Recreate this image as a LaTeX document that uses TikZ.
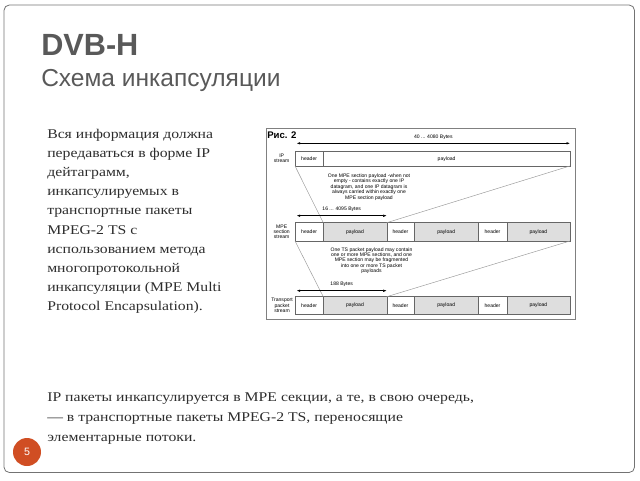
\documentclass[tikz,border=0pt]{standalone}
\usepackage{fontspec}
\setmainfont[FakeStretch=1.18]{Liberation Serif}
\newfontfamily\titlefont{Liberation Sans}
\usetikzlibrary{positioning,arrows.meta}
\definecolor{titlegray}{RGB}{89,89,89}
\definecolor{textgray}{RGB}{45,45,45}
\definecolor{cellgray}{RGB}{222,222,222}
\definecolor{badge}{RGB}{208,78,35}
\newcommand{\figfont}{\titlefont\fontsize{3.8}{4.05}\selectfont}
\tikzstyle{frame}=[draw=black!55, line width=0.6pt, rounded corners=4pt]
\tikzstyle{cell}=[draw=black!60, line width=0.35pt, inner sep=0, outer sep=0, font=\figfont]
\tikzstyle{hdr}=[cell, fill=white]
\tikzstyle{pld}=[cell, fill=cellgray]
\tikzstyle{link}=[draw=black!40, line width=0.35pt]
\tikzstyle{dim}=[{Latex[length=2.6pt,width=1.8pt]}-{Latex[length=2.6pt,width=1.8pt]}, line width=0.35pt]
\tikzstyle{note}=[inner sep=0, align=center, font=\figfont]
% base anchor of a multi-line node sits on its last line
\tikzstyle{body}=[inner sep=0, anchor=base west, align=left, text=textgray]

\begin{document}
\begin{tikzpicture}[x=0.75pt, y=-0.75pt]
    \useasboundingbox (0,0) rectangle (640,480);
    \draw[frame] (4,5) rectangle (634.5,472.5);

    % headings
    \node[anchor=base west, inner sep=0, text=titlegray, font=\titlefont\bfseries\fontsize{23}{27}\selectfont] (title) at (41,55) {DVB-H};
    \node[anchor=base west, inner sep=0, text=titlegray, font=\titlefont\fontsize{18.4}{22}\selectfont] (subtitle) at (41,86.7) {Схема инкапсуляции};

    % text
    \node[body, font=\fontsize{10}{14.36}\selectfont] (info) at (47,310.6) {Вся информация должна\\
        передаваться в форме IP\\
        дейтаграмм,\\
        инкапсулируемых в\\
        транспортные пакеты\\
        MPEG-2 TS с\\
        использованием метода\\
        многопротокольной\\
        инкапсуляции (MPE Multi\\
        Protocol Encapsulation).};
    \node[body, font=\fontsize{10}{15}\selectfont] (summary) at (47,441.7) {IP пакеты инкапсулируется в MPE секции, а те, в свою очередь,\\
        — в транспортные пакеты MPEG-2 TS, переносящие\\
        элементарные потоки.};

    % figure
    \draw[draw=black!50, line width=0.5pt] (266,128) rectangle (575,319);
    \node[anchor=base west, inner sep=0, font=\titlefont\bfseries\fontsize{7.2}{8}\selectfont] (fig) at (267,138.5) {Рис. 2};

    % IP stream
    \begin{scope}[every node/.append style={minimum height=10.7pt}]
        \node[hdr, minimum width=21.2pt, anchor=north west] (iph) at (295,151.7) {header};
        \node[hdr, minimum width=185pt, right=0pt of iph] (ipp) {payload};
    \end{scope}
    % MPE section stream
    \begin{scope}[every node/.append style={minimum height=13.7pt}]
        \node[hdr, minimum width=21.2pt, anchor=north west] (mh1) at (295,222.7) {header};
        \node[pld, minimum width=47.6pt, right=0pt of mh1] (mp1) {payload};
        \node[hdr, minimum width=20.5pt, right=0pt of mp1] (mh2) {header};
        \node[pld, minimum width=48.2pt, right=0pt of mh2] (mp2) {payload};
        \node[hdr, minimum width=21.3pt, right=0pt of mp2] (mh3) {header};
        \node[pld, minimum width=47.5pt, right=0pt of mh3] (mp3) {payload};
    \end{scope}
    % transport packet stream
    \begin{scope}[every node/.append style={minimum height=13pt}]
        \node[hdr, minimum width=21.2pt, anchor=north west] (th1) at (295,296.7) {header};
        \node[pld, minimum width=47.6pt, right=0pt of th1] (tp1) {payload};
        \node[hdr, minimum width=20.5pt, right=0pt of tp1] (th2) {header};
        \node[pld, minimum width=48.2pt, right=0pt of th2] (tp2) {payload};
        \node[hdr, minimum width=21.3pt, right=0pt of tp2] (th3) {header};
        \node[pld, minimum width=47.5pt, right=0pt of th3] (tp3) {payload};
    \end{scope}

    \node[note] (iplabel) at (281.7,158.5) {IP\\stream};
    \node[note] (mpelabel) at (281.7,231.8) {MPE\\section\\stream};
    \node[note] (tslabel) at (282,305.3) {Transport\\packet\\stream};

    \draw[link] (iph.south west) -- (mp1.north west);
    \draw[link] (ipp.south east) -- (mp1.north east);
    \draw[link] (mh1.south west) -- (tp1.north west);
    \draw[link] (mp3.south east) -- (tp1.north east);

    \node[note] (ipnote) at (369,187) {One MPE section payload -when not\\
        empty - contains exactly one IP\\
        datagram, and one IP datagram is\\
        always carried within exactly one\\
        MPE section payload};
    \node[note] (tsnote) at (371.5,260.5) {One TS packet payload may contain\\
        one or more MPE sections, and one\\
        MPE section may be fragmented\\
        into one or more TS packet\\
        payloads};

    % sizes
    \coordinate (ipl) at (296.7,143.3);
    \coordinate (ipr) at (570,143.3);
    \coordinate (mpel) at (296.7,215.7);
    \coordinate (mper) at (386.7,215.7);
    \coordinate (tsl) at (296.7,290.7);
    \coordinate (tsr) at (386.7,290.7);
    \draw[dim] (ipl) -- node[note, above=2.5pt] (ipsize) {40 ... 4080 Bytes} (ipr);
    \draw[dim] (mpel) -- node[note, above=3pt] (mpesize) {16 ... 4095 Bytes} (mper);
    \draw[dim] (tsl) -- node[note, above=3pt] (tssize) {188 Bytes} (tsr);

    % slide number
    \node[circle, fill=badge, text=white, minimum size=21pt, inner sep=0, font=\titlefont\fontsize{8}{9}\selectfont] (page) at (27,452) {5};
\end{tikzpicture}
\end{document}
